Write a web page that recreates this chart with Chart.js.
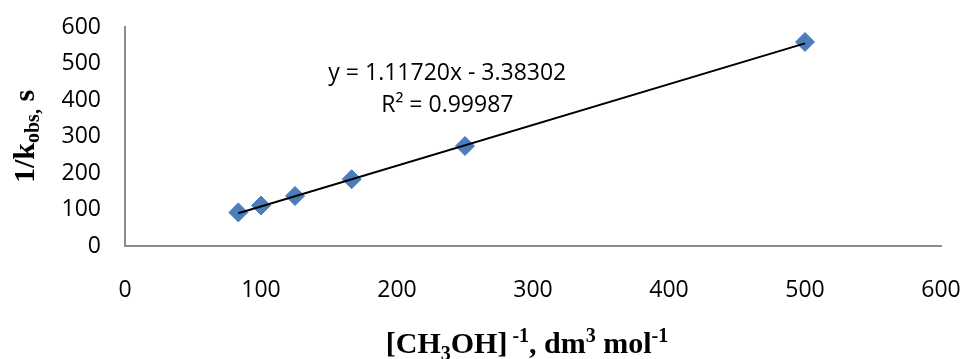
<!DOCTYPE html>
<html>
<head>
<meta charset="utf-8">
<script src="https://cdn.jsdelivr.net/npm/chart.js@4/dist/chart.umd.min.js"></script>
<style>
  html, body { margin: 0; padding: 0; background: #fff; }
</style>
</head>
<body>
<canvas id="chart" width="963" height="359"></canvas>
<script>
// data
const xValues = [83.33, 100, 125, 166.67, 250, 500];
const yValues = [92, 111, 137, 183, 274, 559];
// linear trendline end points
const trendX = [83.33, 500];
const trendY = [89.7, 555.2];
const equationLines = ['y = 1.11720x - 3.38302', 'R² = 0.99987'];

const tickFont = { family: 'Open Sans', size: 23 };
const titleFamily = '"Liberation Serif", "Times New Roman", serif';

// draw a run of text pieces (sub/superscripts) centred on x=0, baseline y=0
function drawRich(ctx, parts) {
    let total = 0;
    parts.forEach(p => {
        ctx.font = 'bold ' + p.size + 'px ' + titleFamily;
        p.w = ctx.measureText(p.t).width;
        total += p.w;
    });
    let x = -total / 2;
    parts.forEach(p => {
        ctx.font = 'bold ' + p.size + 'px ' + titleFamily;
        ctx.fillText(p.t, x, p.dy || 0);
        x += p.w;
    });
}

const labelsPlugin = {
    id: 'labels',
    afterDraw(chart) {
        const ctx = chart.ctx;
        const area = chart.chartArea;
        const xs = chart.scales.x, ys = chart.scales.y;
        ctx.save();
        ctx.fillStyle = '#000';
        ctx.textBaseline = 'alphabetic';
        ctx.textAlign = 'left';

        // x axis title
        ctx.save();
        ctx.translate((area.left + area.right) / 2 - 6, 353);
        drawRich(ctx, [
            { t: '[CH', size: 30 },
            { t: '3', size: 20, dy: 7 },
            { t: 'OH]', size: 30 },
            { t: ' -1', size: 20, dy: -11 },
            { t: ', dm', size: 30 },
            { t: '3', size: 20, dy: -11 },
            { t: ' mol', size: 30 },
            { t: '-1', size: 20, dy: -11 }
        ]);
        ctx.restore();

        // y axis title
        ctx.save();
        ctx.translate(34, (area.top + area.bottom) / 2);
        ctx.rotate(-Math.PI / 2);
        drawRich(ctx, [
            { t: '1/k', size: 30 },
            { t: 'obs,', size: 20, dy: 5 },
            { t: ' s', size: 30 }
        ]);
        ctx.restore();

        // trendline equation
        ctx.font = '23px "Open Sans"';
        ctx.textAlign = 'center';
        ctx.textBaseline = 'middle';
        const cx = xs.getPixelForValue(237);
        ctx.fillText(equationLines[0], cx, ys.getPixelForValue(474));
        ctx.fillText(equationLines[1], cx, ys.getPixelForValue(386));
        ctx.restore();
    }
};

const ctx = document.getElementById('chart').getContext('2d');
new Chart(ctx, {
    type: 'scatter',
    data: {
        datasets: [{
            data: trendX.map((x, i) => ({ x: x, y: trendY[i] })),
            showLine: true,
            borderColor: '#000',
            borderWidth: 2,
            pointRadius: 0,
            order: 0
        }, {
            data: xValues.map((x, i) => ({ x: x, y: yValues[i] })),
            pointStyle: 'rectRot',
            pointRadius: 9.5,
            backgroundColor: '#4A7EBB',
            borderColor: '#4A7EBB',
            borderWidth: 1,
            order: 1
        }]
    },
    options: {
        responsive: false,
        animation: false,
        layout: { padding: { top: 27, right: 22, left: 0, bottom: 0 } },
        plugins: {
            legend: { display: false },
            tooltip: { enabled: false }
        },
        scales: {
            x: {
                type: 'linear',
                min: 0,
                max: 600,
                // invisible tick marks push the labels down, ticks.padding would eat the right margin
                grid: { display: true, drawOnChartArea: false, drawTicks: true, tickLength: 31, tickColor: 'rgba(0,0,0,0)' },
                border: { display: true, color: '#8c8c8c', width: 2 },
                ticks: { stepSize: 100, color: '#000', font: tickFont, padding: 0, maxRotation: 0 },
                afterFit(scale) { scale.height = 113; }
            },
            y: {
                min: 0,
                max: 600,
                grid: { display: true, drawOnChartArea: false, drawTicks: true, tickLength: 24, tickColor: 'rgba(0,0,0,0)' },
                border: { display: true, color: '#8c8c8c', width: 2 },
                ticks: { stepSize: 100, color: '#000', font: tickFont, padding: 0 },
                afterFit(scale) { scale.width = 125; }
            }
        }
    },
    plugins: [labelsPlugin]
});
</script>
</body>
</html>
